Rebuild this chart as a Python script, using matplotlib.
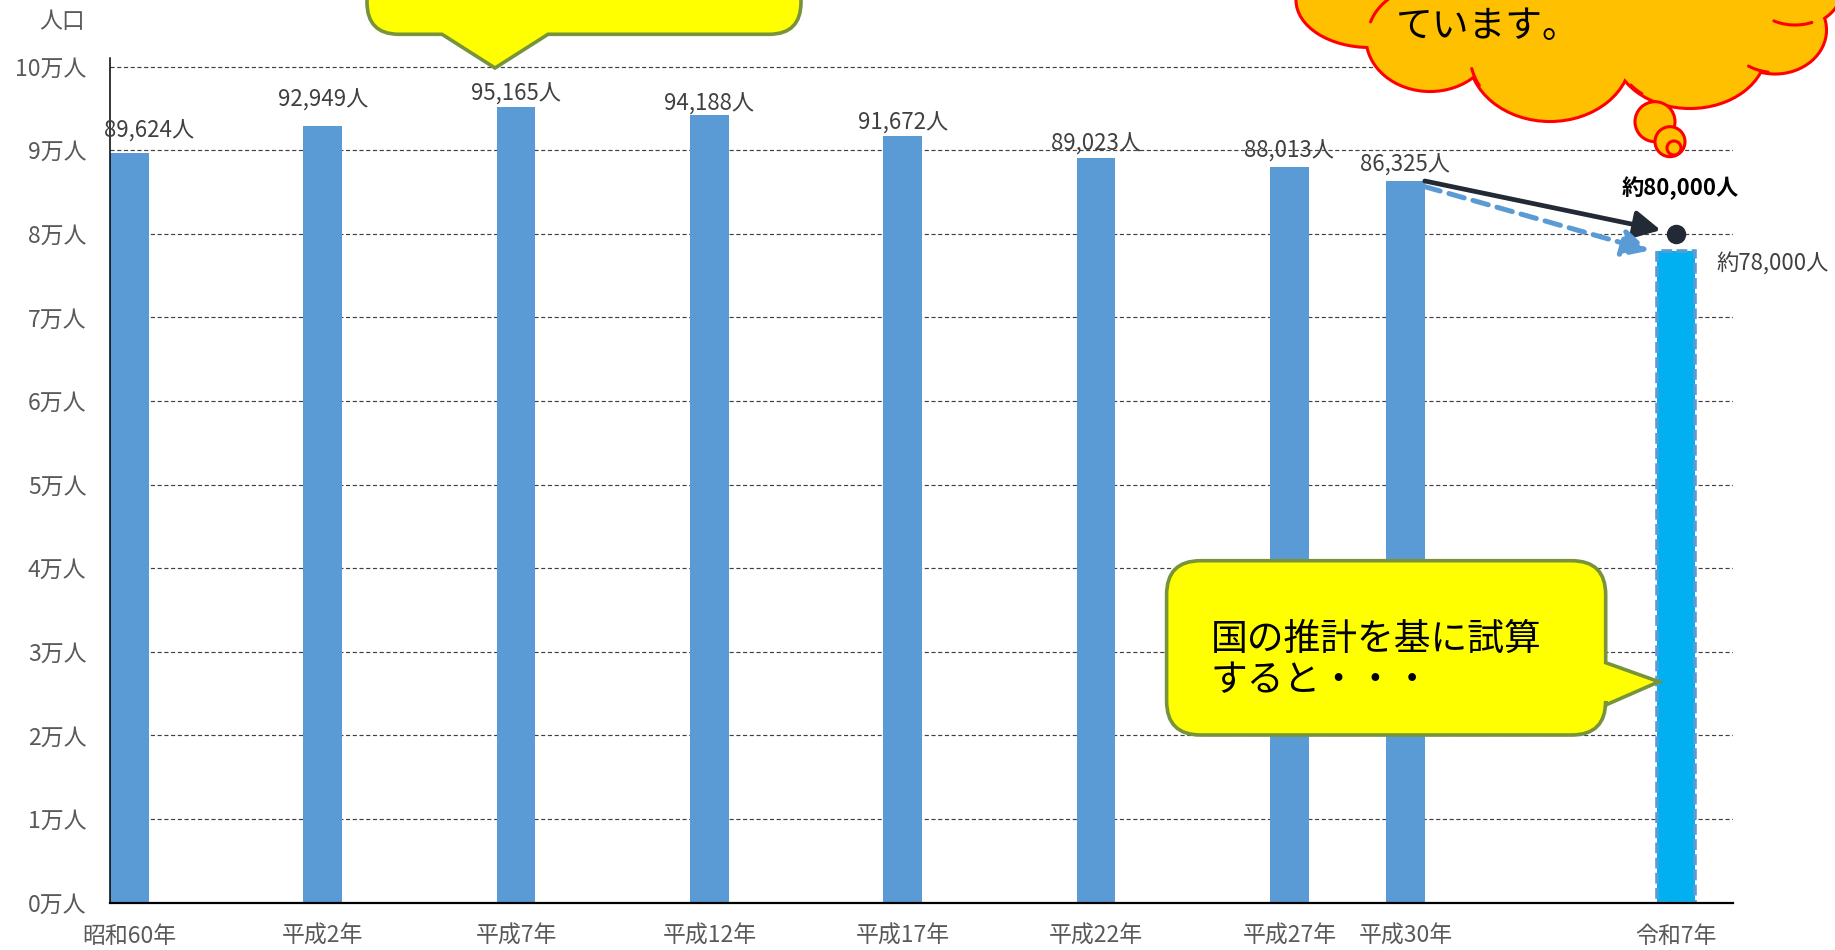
import matplotlib
matplotlib.use('Agg')
import matplotlib.pyplot as plt
import matplotlib.patches as mpatches
from matplotlib.lines import Line2D
from matplotlib.path import Path
import numpy as np

plt.rcParams['font.family'] = ['Noto Sans CJK JP', 'DejaVu Sans']

# ================= データ =================
years = [1985, 1990, 1995, 2000, 2005, 2010, 2015, 2018, 2025]
era_labels = ['昭和60年', '平成2年', '平成7年', '平成12年', '平成17年',
              '平成22年', '平成27年', '平成30年', '令和7年']
population = [89624, 92949, 95165, 94188, 91672, 89023, 88013, 86325]
proj_year = 2025
proj_national = 78000   # 国の推計を基に試算
proj_target = 80000     # 約80,000人
y_ticks = list(range(0, 100001, 10000))
y_tick_labels = [f'{v // 10000}万人' for v in y_ticks]

# ラベルの微調整（points）
label_dx = [14, 0, 0, 0, 0, 0, 0, 0]
label_dy = [8, 10, 1, 0, 1, 2, 3, 3]

# ================= 色 =================
BAR_BLUE = '#5B9BD5'
PROJ_BLUE = '#00B0F0'
DARK = '#222A35'
TICK_GRAY = '#595959'
LABEL_GRAY = '#404040'
CALLOUT_FILL = '#FFFF00'
CALLOUT_EDGE = '#77933C'
CLOUD_FILL = '#FFC000'
CLOUD_EDGE = '#FF0000'

W, H = 1835, 950


def px(x, y):
    """画像ピクセル座標(左上原点) -> figure 座標"""
    return x / W, 1 - y / H


def callout_patch(x0, y0, x1, y1, r, side, a, b, tip, **kw):
    """吹き出し（角丸四角形＋しっぽ）を一つの Path で作る"""
    verts, codes = [], []

    def move(p):
        verts.append(px(*p)); codes.append(Path.MOVETO)

    def line(p):
        verts.append(px(*p)); codes.append(Path.LINETO)

    def curve(c, p):
        verts.extend([px(*c), px(*p)]); codes.extend([Path.CURVE3, Path.CURVE3])

    move((x0 + r, y0))
    line((x1 - r, y0))
    curve((x1, y0), (x1, y0 + r))
    if side == 'right':
        line((x1, a)); line(tip); line((x1, b))
    line((x1, y1 - r))
    curve((x1, y1), (x1 - r, y1))
    if side == 'bottom':
        line((b, y1)); line(tip); line((a, y1))
    line((x0 + r, y1))
    curve((x0, y1), (x0, y1 - r))
    line((x0, y0 + r))
    curve((x0, y0), (x0 + r, y0))
    verts.append(px(x0 + r, y0)); codes.append(Path.CLOSEPOLY)
    return mpatches.PathPatch(Path(verts, codes), transform=fig.transFigure, **kw)


def ellipse(cx, cy, w, h, **kw):
    return mpatches.Ellipse(px(cx, cy), w / W, h / H, transform=fig.transFigure, **kw)


def inner_arc(cx, cy, w, h, t1, t2, **kw):
    # 画像座標（y 下向き）での楕円の一部
    t = np.deg2rad(np.linspace(t1, t2, 20))
    xs = (cx + w / 2 * np.cos(t)) / W
    ys = 1 - (cy + h / 2 * np.sin(t)) / H
    return Line2D(xs, ys, transform=fig.transFigure, solid_capstyle='round', **kw)


# ================= 作図 =================
fig = plt.figure(figsize=(W / 100, H / 100), dpi=100, facecolor='white')
ax = fig.add_axes([110 / W, (H - 902.7) / H, 1623 / W, 844.4 / H])

ax.bar(years[:-1], population, width=1.0, color=BAR_BLUE, zorder=2)
ax.bar(proj_year, proj_national, width=1.0, color=PROJ_BLUE,
       edgecolor=BAR_BLUE, linestyle=(0, (3, 1.2)), linewidth=2.6, zorder=2)

ax.set_xlim(1984.5, 2026.47)
ax.set_ylim(0, 101000)
ax.set_xticks(years)
ax.set_xticklabels(era_labels)
ax.set_yticks(y_ticks)
ax.set_yticklabels(y_tick_labels)
ax.tick_params(axis='both', length=0, labelsize=16.5, colors=TICK_GRAY)
ax.tick_params(axis='x', pad=16)
ax.tick_params(axis='y', pad=17)

ax.yaxis.grid(True, linestyle=(0, (3.5, 2.2)), color=LABEL_GRAY, linewidth=0.85)
ax.set_axisbelow(True)
for s in ['top', 'right']:
    ax.spines[s].set_visible(False)
ax.spines['left'].set_linewidth(1.1)
ax.spines['bottom'].set_linewidth(1.6)
ax.spines['left'].set_color('black')
ax.spines['bottom'].set_color('black')

# 値ラベル
for x, v, dx, dy in zip(years, population, label_dx, label_dy):
    ax.annotate(f'{v:,}人', xy=(x, v), xytext=(dx, dy), textcoords='offset points',
                ha='center', va='bottom', fontsize=16, color=LABEL_GRAY)

# 推計の矢印
ax.annotate('', xy=(2024.6, 80450), xytext=(2018.5, population[-1]),
            arrowprops=dict(arrowstyle='-|>,head_length=0.8,head_width=0.42',
                            mutation_scale=20, color=DARK, lw=3.4,
                            shrinkA=0, shrinkB=0),
            annotation_clip=False)
ax.annotate('', xy=(2024.3, proj_national), xytext=(2018.5, 85646),
            arrowprops=dict(arrowstyle='-|>,head_length=0.8,head_width=0.42',
                            mutation_scale=20, color=BAR_BLUE, lw=3.6,
                            linestyle=(0, (3.2, 1.8)), shrinkA=0, shrinkB=0),
            annotation_clip=False)
ax.plot(proj_year, proj_target, 'o', ms=13, color=DARK, zorder=5, clip_on=False)
ax.annotate(f'約{proj_target:,}人', xy=(proj_year, proj_target), xytext=(3, 33),
            textcoords='offset points', ha='center', va='center',
            fontsize=16, fontweight='bold', color='black', annotation_clip=False)
ax.annotate(f'約{proj_national:,}人', xy=(proj_year, proj_national), xytext=(29, -10),
            textcoords='offset points', ha='left', va='center',
            fontsize=16, color=LABEL_GRAY, annotation_clip=False)

fig.text(*px(62.5, 21.7), '人口', ha='center', va='center', fontsize=16.5, color=TICK_GRAY)

# ---- 吹き出し（左上）----
fig.add_artist(callout_patch(367, -60, 801, 34.3, 32, 'bottom', 442, 548, (495, 68),
                             facecolor=CALLOUT_FILL, edgecolor=CALLOUT_EDGE, lw=2.6, zorder=3))

# ---- 吹き出し（右下）----
fig.add_artist(callout_patch(1166.6, 560.7, 1605.7, 735, 34, 'right', 662.7, 705, (1659, 681.7),
                             facecolor=CALLOUT_FILL, edgecolor=CALLOUT_EDGE, lw=2.6, zorder=3))
fig.text(*px(1211, 660), '国の推計を基に試算\nすると・・・', ha='left', va='center',
         fontsize=26.5, color='black', linespacing=1.1, zorder=4)

# ---- 雲（右上）----
lobes = [
    (1370, 0, 145, 92),
    (1430, 38, 125, 104),
    (1550, 55, 160, 130),
    (1690, 50, 150, 114),
    (1775, 30, 100, 85),
    (1795, -10, 90, 70),
]
for cx, cy, w, h in lobes:
    fig.add_artist(ellipse(cx, cy, w, h, facecolor=CLOUD_FILL, edgecolor=CLOUD_EDGE,
                           lw=4.4, zorder=3))
for cx, cy, w, h in lobes + [(1570, 0, 420, 140)]:
    fig.add_artist(ellipse(cx, cy, w, h, facecolor=CLOUD_FILL, edgecolor='none', zorder=3.1))
# 雲の内側の短い弧
for cx, cy, w, h, t1, t2 in [(1430, 38, 125, 104, 198, 243),
                             (1550, 55, 160, 130, 152, 168),
                             (1690, 50, 150, 114, 130, 142),
                             (1775, 30, 100, 85, 98, 122),
                             (1795, -10, 90, 70, 68, 118)]:
    fig.add_artist(inner_arc(cx, cy, w, h, t1, t2, color=CLOUD_EDGE, lw=2.2, zorder=3.15))
for cx, cy, r in [(1655, 121.7, 20), (1670, 141.7, 15), (1674, 148, 7)]:
    fig.add_artist(ellipse(cx, cy, 2 * r, 2 * r, facecolor=CLOUD_FILL, edgecolor=CLOUD_EDGE,
                           lw=2.2, zorder=3.2))
fig.text(*px(1488, 27), 'ています。', ha='center', va='center',
         fontsize=26.5, color='black', zorder=4)

fig.savefig('out.png', dpi=100, facecolor='white')
